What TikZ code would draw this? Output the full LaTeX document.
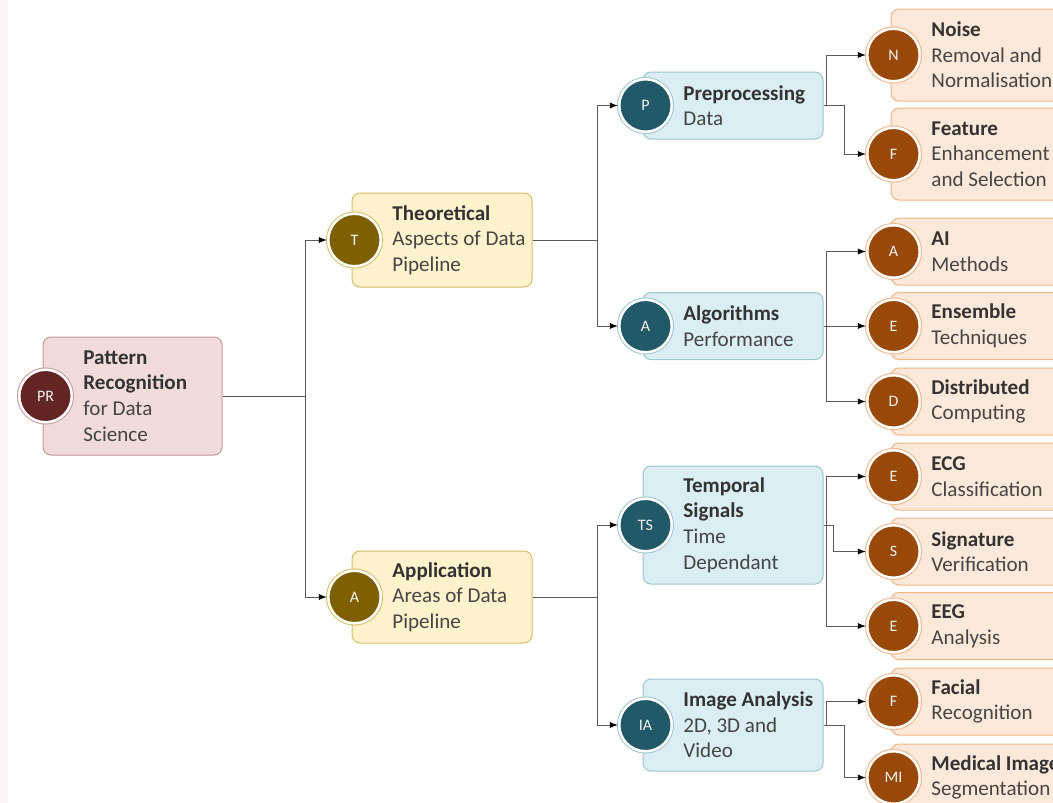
\documentclass[tikz,border=0pt]{standalone}
\usepackage{fontspec}
\setmainfont{Carlito}
\usetikzlibrary{arrows.meta}
\definecolor{rfill}{HTML}{F2DCDB}\definecolor{rline}{HTML}{C49A98}\definecolor{rdark}{HTML}{632523}
\definecolor{yfill}{HTML}{FFF2CC}\definecolor{yline}{HTML}{D8BC66}\definecolor{ydark}{HTML}{7F6000}
\definecolor{bfill}{HTML}{DAEEF3}\definecolor{bline}{HTML}{9EC6D2}\definecolor{bdark}{HTML}{215968}
\definecolor{ofill}{HTML}{FDE9D9}\definecolor{oline}{HTML}{F2B488}\definecolor{odark}{HTML}{984807}
\definecolor{titlecol}{HTML}{333333}\definecolor{bodycol}{HTML}{454545}
\definecolor{conncol}{HTML}{5A5A5A}\definecolor{stripcol}{HTML}{F8F5F7}
\newcommand\mytitle[1]{{\bfseries\color{titlecol}#1}}
\tikzset{
 box/.style={rectangle, rounded corners=6pt, line width=0.75pt, inner sep=0pt},
 circ/.style={circle, inner sep=0pt, minimum size=39.4pt, line width=1.9pt, draw=white, text=white!95!black, font=\fontsize{12}{14}\selectfont},
 boxR/.style={box, fill=rfill, draw=rline}, circR/.style={circ, fill=rdark, preaction={draw=rline, line width=3.4pt}},
 boxY/.style={box, fill=yfill, draw=yline}, circY/.style={circ, fill=ydark, preaction={draw=yline, line width=3.4pt}},
 boxB/.style={box, fill=bfill, draw=bline}, circB/.style={circ, fill=bdark, preaction={draw=bline, line width=3.4pt}},
 boxO/.style={box, fill=ofill, draw=oline}, circO/.style={circ, fill=odark, preaction={draw=oline, line width=3.4pt}},
 txt/.style={inner sep=0pt, align=left, text=bodycol, font=\fontsize{15.8}{19.2}\selectfont},
 conn/.style={draw=conncol, line width=0.75pt, -{Latex[length=6pt,width=4.5pt,color=black]}},
}
% name, group, x, y, w, h, badge, content
\newcommand\mnode[8]{%
 \node[box#2, minimum width=#5*0.75pt, minimum height=#6*0.75pt] (#1) at (#3,#4) {};
 \node[circ#2] (#1-c) at ([xshift=2.25pt]#1.west) {#7};
 \node[txt, anchor=west] (#1-t) at ([xshift=30.5pt]#1.west) {#8};
}
\begin{document}
\begin{tikzpicture}[x=0.75pt, y=-0.75pt]
\useasboundingbox (0,0) rectangle (1053,803);
\begin{scope}
\clip (0,0) rectangle (1053,803);
\fill[white] (0,0) rectangle (1053,803);
\fill[stripcol] (0,0) rectangle (8,803);
\mnode{root}{R}{132.5}{396}{179}{118}{PR}{\mytitle{Pattern}\\\mytitle{Recognition}\\for Data\\Science}
\mnode{T}{Y}{442}{240}{180}{94}{T}{\mytitle{Theoretical}\\Aspects of Data\\Pipeline}
\mnode{A}{Y}{442}{597}{180}{92}{A}{\mytitle{Application}\\Areas of Data\\Pipeline}
\mnode{P}{B}{733}{105.5}{180}{67}{P}{\mytitle{Preprocessing}\\Data}
\mnode{Alg}{B}{733}{326}{180}{67}{A}{\mytitle{Algorithms}\\Performance}
\mnode{TS}{B}{733}{525}{180}{118}{TS}{\mytitle{Temporal}\\\mytitle{Signals}\\Time\\Dependant}
\mnode{IA}{B}{733}{725}{180}{92}{IA}{\mytitle{Image Analysis}\\2D, 3D and\\Video}
\mnode{N}{O}{981}{55}{180}{92}{N}{\mytitle{Noise}\\Removal and\\Normalisation}
\mnode{F}{O}{981}{154}{180}{92}{F}{\mytitle{Feature}\\Enhancement\\and Selection}
\mnode{AI}{O}{981}{251.5}{180}{67}{A}{\mytitle{AI}\\Methods}
\mnode{Ens}{O}{981}{326}{180}{67}{E}{\mytitle{Ensemble}\\Techniques}
\mnode{Dist}{O}{981}{401.5}{180}{67}{D}{\mytitle{Distributed}\\Computing}
\mnode{ECG}{O}{981}{476.5}{180}{67}{E}{\mytitle{ECG}\\Classification}
\mnode{Sig}{O}{981}{551.5}{180}{67}{S}{\mytitle{Signature}\\Verification}
\mnode{EEG}{O}{981}{626}{180}{67}{E}{\mytitle{EEG}\\Analysis}
\mnode{Fac}{O}{981}{701.5}{180}{67}{F}{\mytitle{Facial}\\Recognition}
\mnode{Med}{O}{981}{777.5}{180}{67}{MI}{\mytitle{Medical Image}\\Segmentation}
\coordinate (k1) at (305,0);
\coordinate (k2) at (597,0);
\coordinate (k3) at (826,0);
\coordinate (k4) at (844,0);
\coordinate (k5) at (833,0);
\draw[conn] (root.east) -- (root.east -| k1) |- (T-c.west);
\draw[conn] (root.east) -- (root.east -| k1) |- (A-c.west);
\draw[conn] (T.east) -- (T.east -| k2) |- (P-c.west);
\draw[conn] (T.east) -- (T.east -| k2) |- (Alg-c.west);
\draw[conn] (A.east) -- (A.east -| k2) |- (TS-c.west);
\draw[conn] (A.east) -- (A.east -| k2) |- (IA-c.west);
\draw[conn] (P.east) -- (P.east -| k3) |- (N-c.west);
\draw[conn] (P.east) -- (P.east -| k4) |- (F-c.west);
\draw[conn] (Alg.east) -- (Alg.east -| k3) |- (AI-c.west);
\draw[conn] (Alg.east) -- (Ens-c.west);
\draw[conn] (Alg.east) -- (Alg.east -| k3) |- (Dist-c.west);
\draw[conn] (TS.east) -- (TS.east -| k3) |- (ECG-c.west);
\draw[conn] (TS.east) -- (TS.east -| k5) |- (Sig-c.west);
\draw[conn] (TS.east) -- (TS.east -| k3) |- (EEG-c.west);
\draw[conn] (IA.east) -- (IA.east -| k3) |- (Fac-c.west);
\draw[conn] (IA.east) -- (IA.east -| k4) |- (Med-c.west);
\end{scope}
\end{tikzpicture}
\end{document}
